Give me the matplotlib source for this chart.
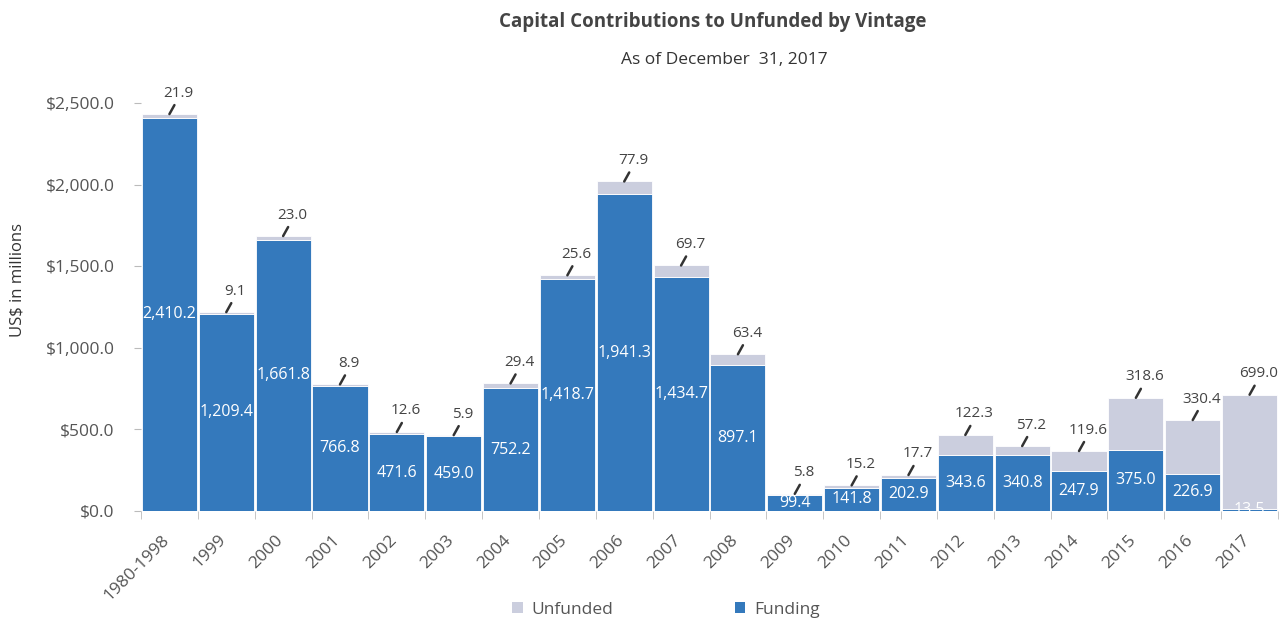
import matplotlib
matplotlib.use("Agg")
import matplotlib.pyplot as plt
import matplotlib.transforms as mtransforms
from matplotlib.patches import Patch
import numpy as np

categories = ["1980-1998", "1999", "2000", "2001", "2002", "2003", "2004", "2005",
              "2006", "2007", "2008", "2009", "2010", "2011", "2012", "2013",
              "2014", "2015", "2016", "2017"]
funding = [2410.2, 1209.4, 1661.8, 766.8, 471.6, 459.0, 752.2, 1418.7, 1941.3,
           1434.7, 897.1, 99.4, 141.8, 202.9, 343.6, 340.8, 247.9, 375.0, 226.9, 13.5]
unfunded = [21.9, 9.1, 23.0, 8.9, 12.6, 5.9, 29.4, 25.6, 77.9, 69.7, 63.4, 5.8,
            15.2, 17.7, 122.3, 57.2, 119.6, 318.6, 330.4, 699.0]
yticks = [0, 500, 1000, 1500, 2000, 2500]

BLUE = "#3479BC"
GRAY = "#CBCEDE"
TXT = "#555555"

plt.rcParams['font.family'] = ['Open Sans', 'DejaVu Sans']

fig = plt.figure(figsize=(12.83, 6.24), dpi=100)
ax = fig.add_axes([141/1283, 1-511/624, (1278-141)/1283, (511-103)/624])

x = np.arange(len(categories))
ax.bar(x, funding, width=0.97, color=BLUE, edgecolor="white", linewidth=0.6, label="Funding")
ax.bar(x, unfunded, width=0.97, bottom=funding, color=GRAY, edgecolor="white",
       linewidth=0.6, label="Unfunded")

ax.set_xlim(-0.5, len(categories) - 0.5)
ax.set_ylim(0, 2500)

for s in ["top", "right", "bottom", "left"]:
    ax.spines[s].set_visible(False)

ax.set_yticks(yticks)
ax.set_yticklabels([f"${v:,.1f}" for v in yticks], color=TXT, fontsize=12.5)
ax.tick_params(axis="y", length=5, color="#BBBBBB", pad=14)

ax.set_xticks(x)
ax.set_xticklabels(categories, rotation=45, ha="right", rotation_mode="anchor",
                   color=TXT, fontsize=12.5)
ax.tick_params(axis="x", length=0, pad=15)
offset = mtransforms.ScaledTranslation(-8/100, 0, fig.dpi_scale_trans)
for lbl in ax.get_xticklabels():
    lbl.set_transform(lbl.get_transform() + offset)
ax.set_xticks(np.arange(-0.5, len(categories), 1.0), minor=True)
ax.tick_params(axis="x", which="minor", length=6, color="#BBBBBB")

fig.text(18/1283, 1-280/624, "US$ in millions", rotation=90, ha="center", va="center",
         fontsize=12, color="#333333")

# funding labels (centered within funding portion)
for xi, f in zip(x, funding):
    ax.text(xi, f/2, f"{f:,.1f}", ha="center", va="center", color="white",
            fontsize=11.5, clip_on=False)

# unfunded labels with leader line
for xi, f, u in zip(x, funding, unfunded):
    top = f + u
    ax.annotate("", xy=(xi, top), xytext=(5, 9), textcoords="offset pixels",
                xycoords="data",
                arrowprops=dict(arrowstyle="-", color="#333333", lw=1.8,
                                shrinkA=0, shrinkB=0))
    ax.annotate(f"{u:.1f}", xy=(xi, top), xytext=(9, 21), textcoords="offset pixels",
                ha="center", va="center", color="#444444", fontsize=11)

fig.text(713/1283, 1-22/624, "Capital Contributions to Unfunded by Vintage",
         ha="center", va="center", fontsize=13.5, fontweight="bold", color="#444444")
fig.text(724/1283, 1-60/624, "As of December  31, 2017", ha="center", va="center",
         fontsize=12.5, color="#333333")

handles = [Patch(facecolor=GRAY, edgecolor="none", label="Unfunded"),
           Patch(facecolor=BLUE, edgecolor="none", label="Funding")]
leg = fig.legend(handles=handles, loc="center", bbox_to_anchor=(666/1283, 1-610/624),
                 ncol=2, frameon=False, fontsize=12.5, handlelength=0.6, handleheight=0.6,
                 columnspacing=7, handletextpad=0.5)
for t in leg.get_texts():
    t.set_color(TXT)

fig.savefig("out.png", dpi=100)
